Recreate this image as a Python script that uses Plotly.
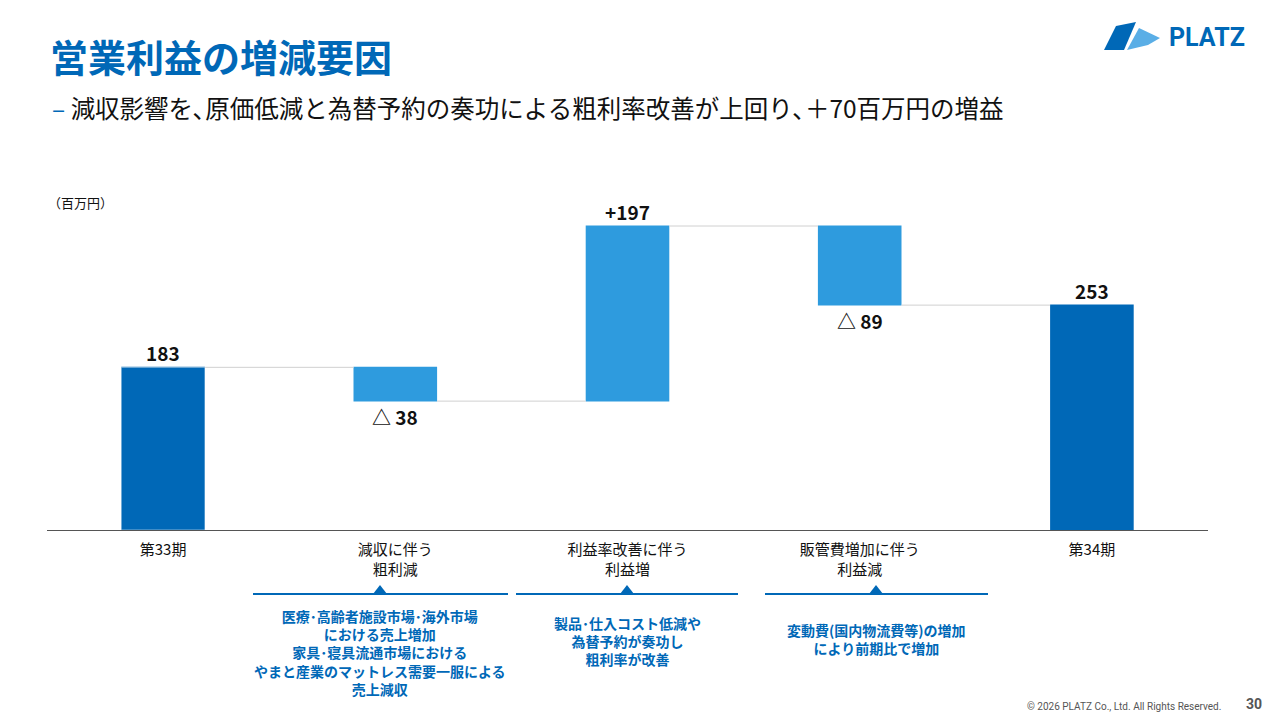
import plotly.graph_objects as go

categories = ["第33期", "減収に伴う<br>粗利減", "利益率改善に伴う<br>利益増", "販管費増加に伴う<br>利益減", "第34期"]
values = [183, -38, 197, -89, 253]
measures = ["absolute", "relative", "relative", "relative", "total"]
labels = ["183", "△ 38", "+197", "△ 89", "253"]
notes = [
    "医療･高齢者施設市場･海外市場<br>における売上増加<br>家具･寝具流通市場における<br>やまと産業のマットレス需要一服による<br>売上減収",
    "製品･仕入コスト低減や<br>為替予約が奏功し<br>粗利率が改善",
    "変動費(国内物流費等)の増加<br>により前期比で増加",
]

DARK = "#0068B7"
LIGHT = "#2E9BDE"
FONT = "Noto Sans CJK JP"

fig = go.Figure(go.Waterfall(
    x=categories, y=values, measure=measures,
    increasing=dict(marker=dict(color=LIGHT)),
    decreasing=dict(marker=dict(color=LIGHT)),
    totals=dict(marker=dict(color=DARK)),
    connector=dict(line=dict(color="#D0D0D0", width=1)),
    width=0.36,
))

# label positions from cumulative values
run = 0
for i, (v, m, t) in enumerate(zip(values, measures, labels)):
    if m == "absolute":
        base, top = 0, v
        run = v
    elif m == "total":
        base, top = 0, run
    else:
        base, top = run, run + v
        run = run + v
    if m in ("absolute", "total") or v > 0:
        fig.add_annotation(x=categories[i], y=max(base, top), text="<b>%s</b>" % t,
                           showarrow=False, yanchor="bottom", yshift=-1,
                           font=dict(size=19, color="#111"))
    else:
        fig.add_annotation(x=categories[i], y=min(base, top), text="<b>%s</b>" % t,
                           showarrow=False, yanchor="top", yshift=0,
                           font=dict(size=19, color="#111"))

# first bar is dark too
fig.add_trace(go.Bar(x=[categories[0]], y=[values[0]], marker_color=DARK, width=0.36, showlegend=False))

# page has an 8px body margin; work in screen pixels
OFF = 8
W, H = 1280 - OFF, 720 - OFF
L, R, T, B = 47 - OFF, 72, 210 - OFF, 190
def px(x): return (x - OFF - L) / (W - L - R)
def py(y): return (H - B - (y - OFF)) / (H - B - T)

shapes = [
    dict(type="rect", xref="paper", yref="paper", x0=px(45), x1=px(1290), y0=py(5), y1=py(-10),
         fillcolor=DARK, line_width=0),
    dict(type="path", xref="paper", yref="paper",
         path="M %f %f L %f %f L %f %f L %f %f Z" % (px(-10), py(-10), px(48), py(-10), px(43), py(5), px(-10), py(5)),
         fillcolor="#9CC7EA", line_width=0),
]
note_spans = [(253, 508), (516, 738), (765, 988)]
note_x = [380, 627, 876]
for (a, b), cx in zip(note_spans, note_x):
    shapes.append(dict(type="line", xref="paper", yref="paper", x0=px(a), x1=px(b),
                       y0=py(594), y1=py(594), line=dict(color=DARK, width=2)))
    shapes.append(dict(type="path", xref="paper", yref="paper",
                       path="M %f %f L %f %f L %f %f Z" % (px(cx - 7), py(594), px(cx + 7), py(594), px(cx), py(585)),
                       fillcolor=DARK, line_width=0))
shapes.append(dict(type="path", xref="paper", yref="paper",
                   path="M %f %f L %f %f L %f %f L %f %f Z" % (px(1104), py(50), px(1116), py(26), px(1136), py(22), px(1124), py(50)),
                   fillcolor=DARK, line_width=0))
shapes.append(dict(type="path", xref="paper", yref="paper",
                   path="M %f %f L %f %f L %f %f L %f %f Z" % (px(1127), py(50), px(1139), py(28), px(1160), py(38), px(1148), py(45)),
                   fillcolor="#5AAEE6", line_width=0))

ann = [
    dict(x=px(48), y=py(55), text="<b>営業利益の増減要因</b>", font=dict(size=38, color=DARK)),
    dict(x=px(50), y=py(108), text="<span style='color:%s'>– </span>減収影響を､原価低減と為替予約の奏功による粗利率改善が上回り､＋70百万円の増益" % DARK,
         font=dict(size=24.5, color="#111")),
    dict(x=px(46), y=py(202), text="（百万円）", font=dict(size=13, color="#111")),
    dict(x=px(1167), y=py(38), text="<b>PLATZ</b>", font=dict(size=25, color=DARK, family="Roboto")),
    dict(x=px(1025), y=py(706), text="© 2026 PLATZ Co., Ltd. All Rights Reserved.", font=dict(size=10, color="#555", family="Roboto")),
    dict(x=px(1244), y=py(704), text="<b>30</b>", font=dict(size=14, color="#555", family="Roboto")),
]
for a in ann:
    a.update(xref="paper", yref="paper", xanchor="left", yanchor="middle", showarrow=False)
for t, cx, yy in zip(notes, note_x, [652, 641, 639]):
    ann.append(dict(xref="paper", yref="paper", x=px(cx), y=py(yy), text="<b>%s</b>" % t,
                    showarrow=False, xanchor="center", yanchor="middle",
                    font=dict(size=14, color=DARK)))
for a in ann:
    fig.add_annotation(**a)

fig.update_layout(
    width=W, height=H, template="plotly_white", showlegend=False,
    font=dict(family=FONT),
    margin=dict(l=L, r=R, t=T, b=B),
    paper_bgcolor="white", plot_bgcolor="white",
    xaxis=dict(showgrid=False, showline=True, linecolor="#555", linewidth=1,
               tickfont=dict(size=15, color="#111"), ticks="outside", ticklen=6,
               tickcolor="rgba(0,0,0,0)"),
    yaxis=dict(visible=False, range=[0, 360], showgrid=False),
    shapes=shapes,
)

fig.write_html("out.html")
